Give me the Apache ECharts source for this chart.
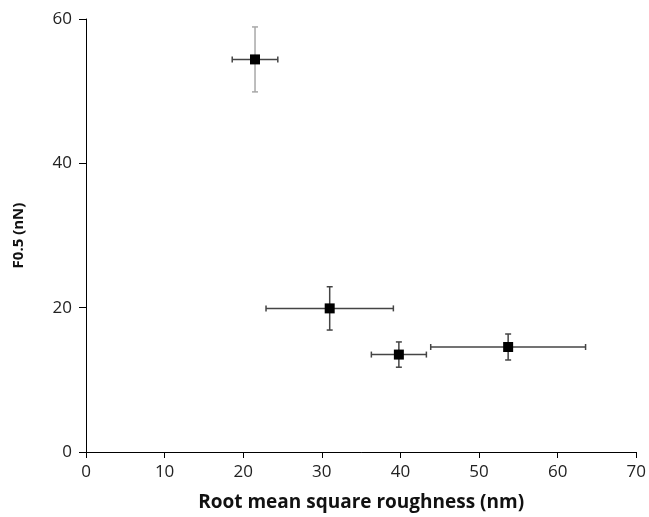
<!DOCTYPE html>
<html>
<head>
<meta charset="utf-8">
<script src="https://cdn.jsdelivr.net/npm/echarts@6/dist/echarts.min.js"></script>
<style>html,body{margin:0;padding:0;background:#fff;}#c{width:649px;height:517px;}</style>
</head>
<body>
<div id="c"></div>
<script>
// data
const roughness = [21.5, 31.0, 39.8, 53.7];     // x (nm)
const roughnessErr = [2.9, 8.1, 3.5, 9.85];     // x error (nm)
const force = [54.4, 19.9, 13.5, 14.55];        // y F0.5 (nN)
const forceErr = [4.5, 3.0, 1.75, 1.8];         // y error (nN)
const xTicks = [0, 10, 20, 30, 40, 50, 60, 70];
const yTicks = [0, 20, 40, 60];

// styles (separate from data)
const vBarColors = ['#a8a8a8', '#444', '#444', '#444'];
const hBarColor = '#444';

const points = roughness.map((x, i) => [x, force[i]]);
const errData = roughness.map((x, i) => [x, force[i], roughnessErr[i], forceErr[i]]);

const font = '"Open Sans", Lato, sans-serif';
const chart = echarts.init(document.getElementById('c'), null, {renderer: 'canvas'});
chart.setOption({
  animation: false,
  backgroundColor: '#fff',
  grid: {left: 86, right: 10, top: 19, bottom: 63, containLabel: false},
  xAxis: {
    type: 'value', min: xTicks[0], max: xTicks[xTicks.length - 1], interval: 10,
    name: 'Root mean square roughness (nm)', nameLocation: 'middle', nameGap: 41,
    nameTextStyle: {fontFamily: font, fontWeight: 'bold', fontSize: 19, color: '#111'},
    axisLine: {lineStyle: {color: '#000', width: 1}},
    axisTick: {show: true, inside: false, length: 6, lineStyle: {color: '#000'}},
    axisLabel: {fontFamily: font, fontSize: 17, color: '#222', margin: 12},
    splitLine: {show: false}
  },
  yAxis: {
    type: 'value', min: yTicks[0], max: yTicks[yTicks.length - 1], interval: 20,
    name: 'F0.5 (nN)', nameLocation: 'middle', nameGap: 60, nameRotate: 90,
    nameTextStyle: {fontFamily: font, fontWeight: 'bold', fontSize: 15, color: '#111'},
    axisLine: {show: true, lineStyle: {color: '#000', width: 1}},
    axisTick: {show: true, inside: false, length: 7, lineStyle: {color: '#000'}},
    axisLabel: {fontFamily: font, fontSize: 17, color: '#222', margin: 14},
    splitLine: {show: false}
  },
  series: [
    {
      type: 'custom',
      data: errData,
      z: 1,
      renderItem: function (params, api) {
        const x = api.value(0), y = api.value(1), ex = api.value(2), ey = api.value(3);
        const l = api.coord([x - ex, y]), r = api.coord([x + ex, y]);
        const t = api.coord([x, y + ey]), b = api.coord([x, y - ey]);
        const cap = 3;
        const hs = {stroke: hBarColor, lineWidth: 1.5};
        const vs = {stroke: vBarColors[params.dataIndex], lineWidth: 1.5};
        return {
          type: 'group',
          children: [
            {type: 'line', shape: {x1: l[0], y1: l[1], x2: r[0], y2: r[1]}, style: hs},
            {type: 'line', shape: {x1: l[0], y1: l[1] - cap, x2: l[0], y2: l[1] + cap}, style: hs},
            {type: 'line', shape: {x1: r[0], y1: r[1] - cap, x2: r[0], y2: r[1] + cap}, style: hs},
            {type: 'line', shape: {x1: t[0], y1: t[1], x2: b[0], y2: b[1]}, style: vs},
            {type: 'line', shape: {x1: t[0] - cap, y1: t[1], x2: t[0] + cap, y2: t[1]}, style: vs},
            {type: 'line', shape: {x1: b[0] - cap, y1: b[1], x2: b[0] + cap, y2: b[1]}, style: vs}
          ]
        };
      }
    },
    {
      type: 'scatter',
      data: points,
      symbol: 'rect',
      symbolSize: 10,
      z: 2,
      itemStyle: {color: '#000', opacity: 1}
    }
  ]
});
</script>
</body>
</html>
